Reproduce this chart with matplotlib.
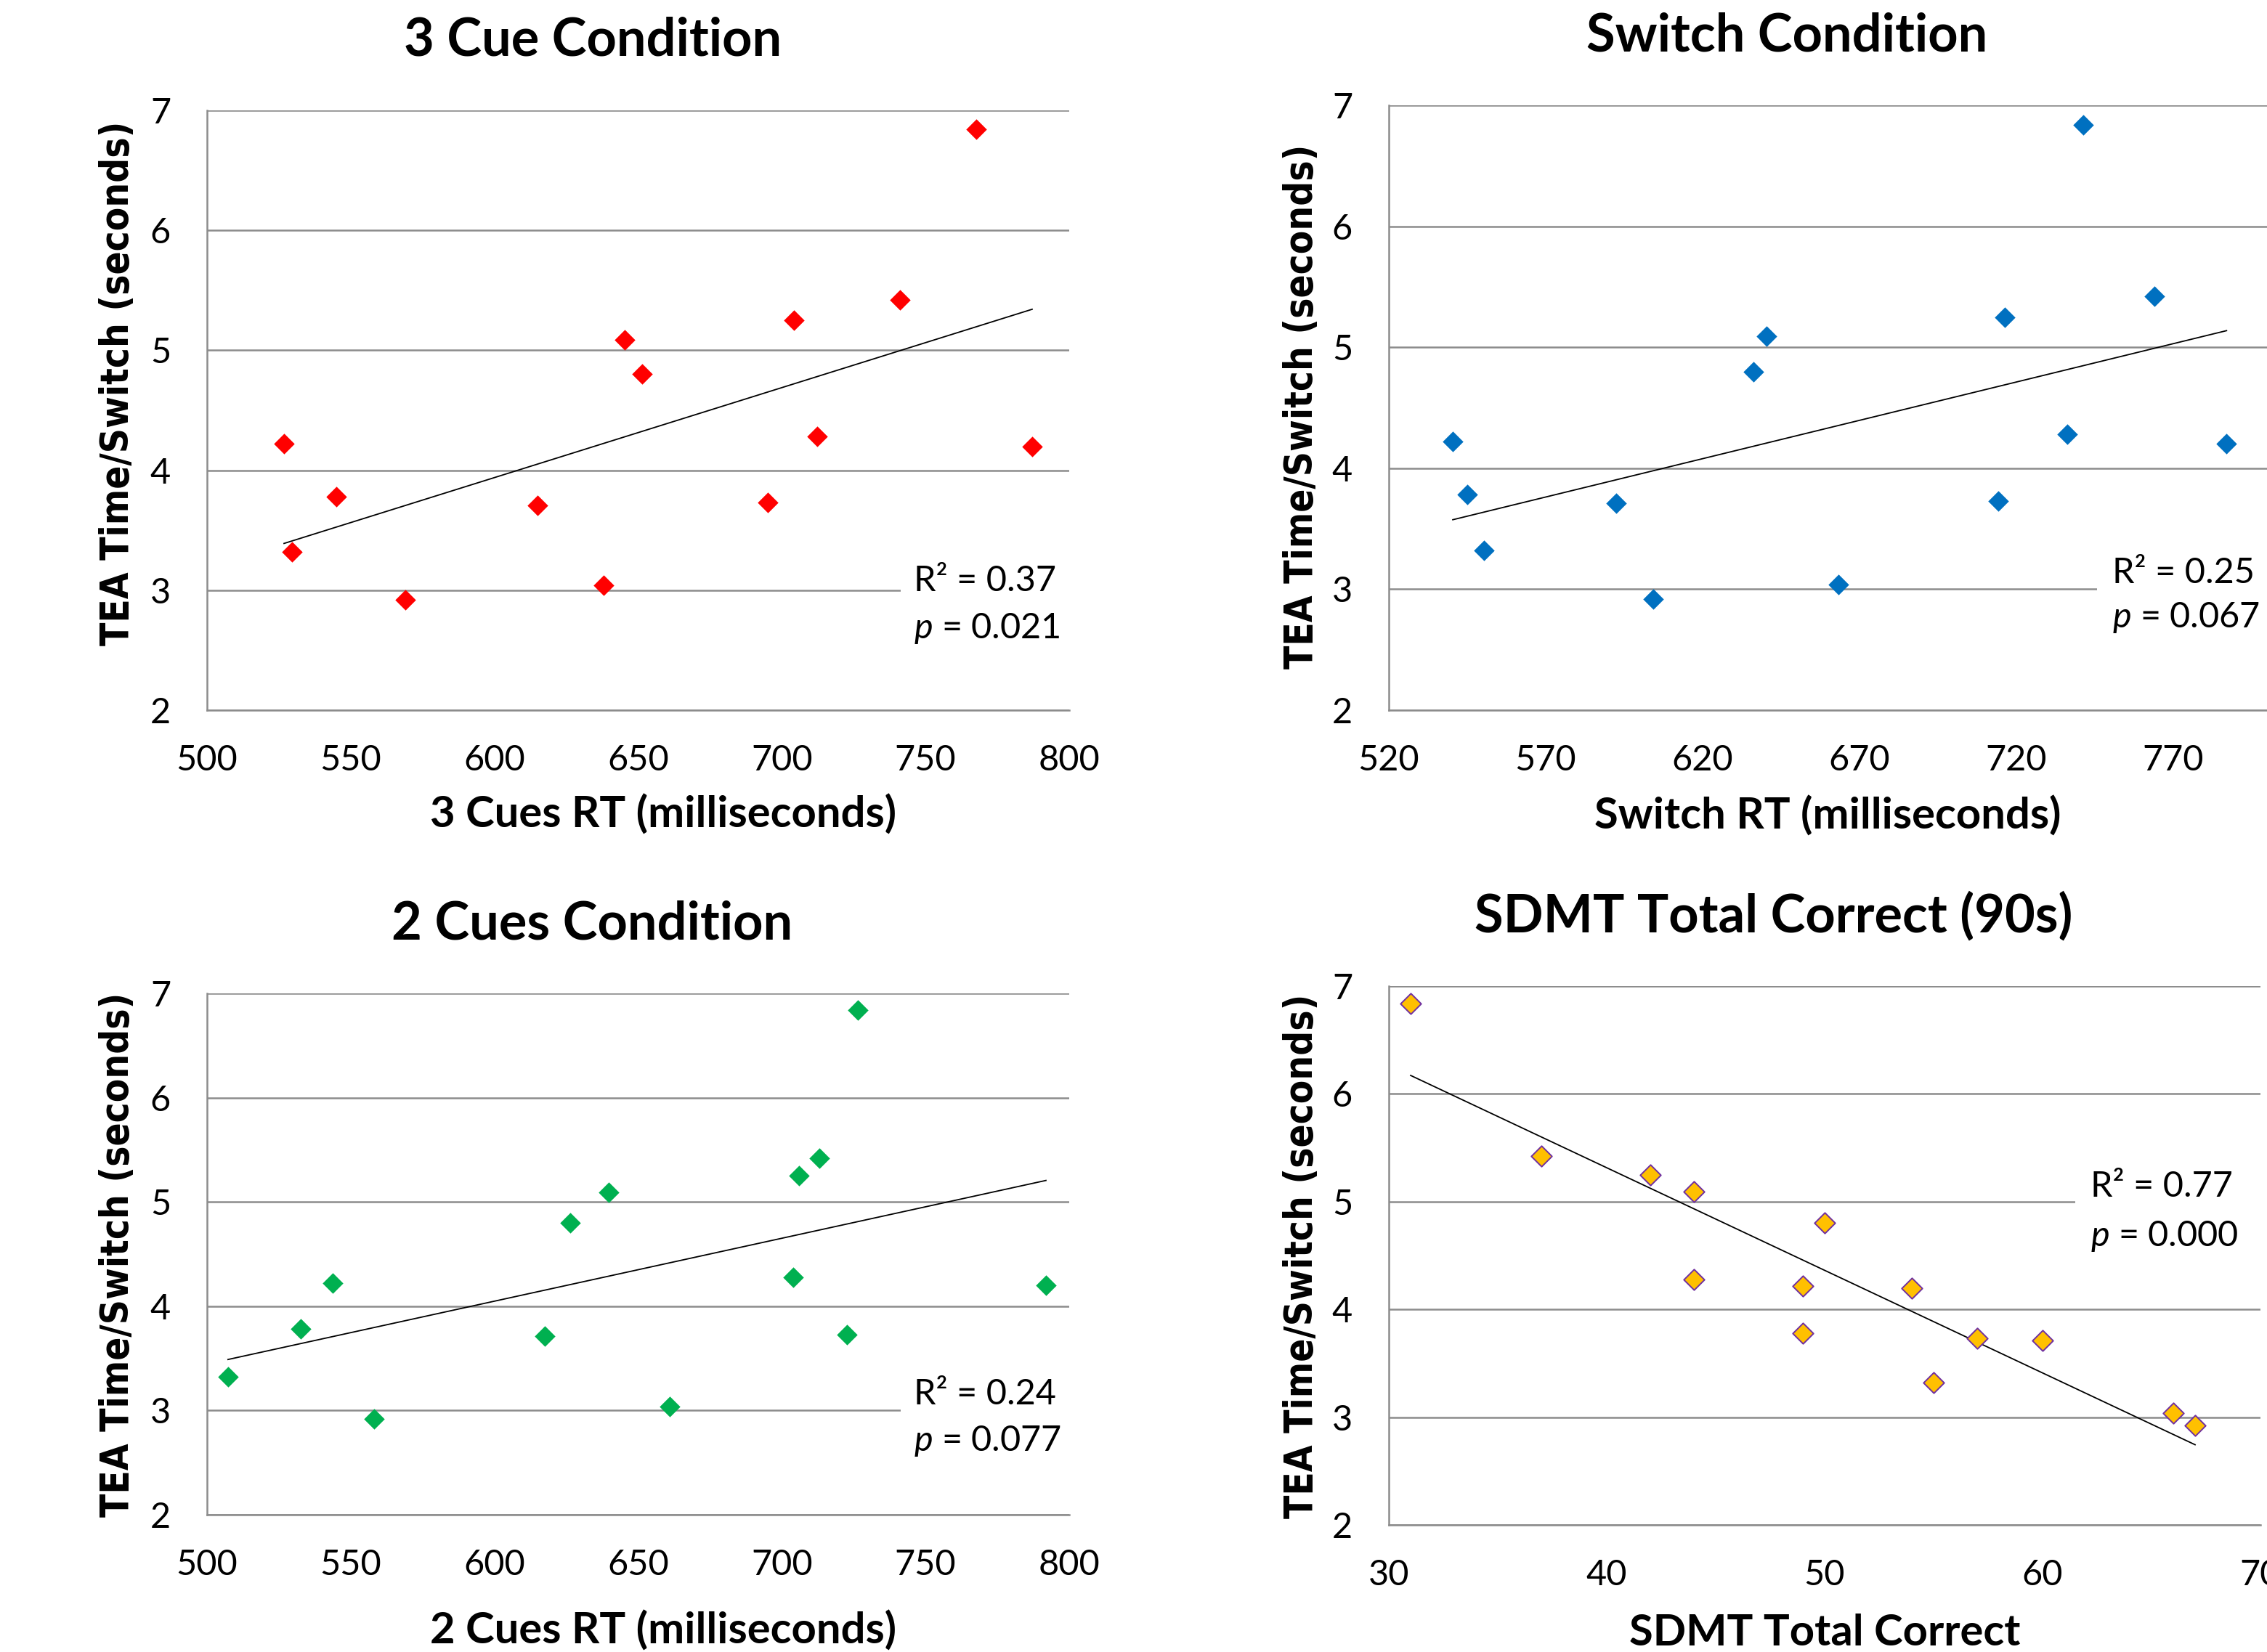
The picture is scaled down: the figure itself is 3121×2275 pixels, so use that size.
import numpy as np
import matplotlib.pyplot as plt
from matplotlib.patches import Rectangle

W, H = 3121, 2275

# TEA time per switch (seconds), one value per participant
tea = [6.84, 5.42, 5.25, 5.09, 4.80, 4.28, 4.22, 4.20, 3.78, 3.73, 3.71, 3.32, 3.04, 2.92]

# predictors, same participant order as tea
rt_3cue = [767.6, 741.1, 704.2, 645.3, 651.4, 712.3, 526.8, 787.1, 545.0, 695.1, 615.0, 529.6, 638.0, 569.0]
rt_switch = [741.3, 764.2, 716.5, 640.5, 636.3, 736.2, 540.4, 787.1, 545.0, 714.4, 592.5, 550.4, 663.4, 604.3]
rt_2cue = [726.4, 713.1, 706.0, 639.8, 626.4, 704.0, 543.7, 791.9, 532.6, 722.7, 617.5, 507.3, 661.0, 558.1]
sdmt = [31, 37, 42, 44, 50, 44, 49, 54, 49, 57, 60, 55, 66, 67]

titles = ["3 Cue Condition", "Switch Condition", "2 Cues Condition", "SDMT Total Correct (90s)"]
xlabels = ["3 Cues RT (milliseconds)", "Switch RT (milliseconds)", "2 Cues RT (milliseconds)", "SDMT Total Correct"]
ylabel = "TEA Time/Switch (seconds)"
r2_vals = ["0.37", "0.25", "0.24", "0.77"]
p_vals = ["0.021", "0.067", "0.077", "0.000"]
xticks = [[500, 550, 600, 650, 700, 750, 800],
          [520, 570, 620, 670, 720, 770],
          [500, 550, 600, 650, 700, 750, 800],
          [30, 40, 50, 60, 70]]
xlims = [(500, 800), (520, 800), (500, 800), (30, 70)]
yticks = [2, 3, 4, 5, 6, 7]

xdata = [rt_3cue, rt_switch, rt_2cue, sdmt]
colors = ["#FF0000", "#0070C0", "#00B050", "#FFC000"]
edges = ["#FF0000", "#0070C0", "#00B050", "#7030A0"]

# layout in pixels: axes (left, top, right, bottom), title xy, xlabel xy, ylabel xy,
# stats text left/y (R2 line, p line), white box span behind the stats
layout = [
    dict(ax=(285, 152, 1472, 978), title=(816, 56), xl=(913, 1122), yl=(162, 528),
         st=(1258, 800, 866), box=(1240, 1480)),
    dict(ax=(1912, 145, 3121, 978), title=(2460, 50), xl=(2516, 1124), yl=(1792, 560),
         st=(2908, 789, 851), box=(2887, 3121)),
    dict(ax=(285, 1368, 1472, 2086), title=(815, 1273), xl=(913, 2246), yl=(162, 1728),
         st=(1258, 1920, 1985), box=(1240, 1480)),
    dict(ax=(1912, 1358, 3112, 2100), title=(2442, 1262), xl=(2512, 2249), yl=(1792, 1730),
         st=(2878, 1634, 1702), box=(2857, 3121)),
]

txt_font = "Lato"
plt.rcParams['mathtext.fontset'] = 'custom'
plt.rcParams['mathtext.it'] = 'Lato:italic'
plt.rcParams['mathtext.rm'] = 'Lato'

fig = plt.figure(figsize=(W / 100, H / 100), dpi=100)
grid_c = "#8c8c8c"

for i in range(4):
    L = layout[i]
    l, t, r, b = L["ax"]
    ax = fig.add_axes([l / W, 1 - b / H, (r - l) / W, (b - t) / H])
    x = np.array(xdata[i], dtype=float)
    y = np.array(tea)
    ax.scatter(x, y, marker="D", s=210, color=colors[i], edgecolors=edges[i],
               linewidths=1.4 if i == 3 else 0, zorder=3, clip_on=False)
    k, c0 = np.polyfit(x, y, 1)
    xs = np.array([x.min(), x.max()])
    ax.plot(xs, k * xs + c0, color="black", lw=1.3, zorder=2)

    ax.set_xlim(*xlims[i])
    ax.set_ylim(2, 7)
    ax.set_xticks(xticks[i])
    ax.set_yticks(yticks)
    ax.grid(axis="y", color=grid_c, lw=1.8)
    ax.set_axisbelow(True)
    for s in ["top", "right"]:
        ax.spines[s].set_visible(False)
    for s in ["left", "bottom"]:
        ax.spines[s].set_color(grid_c)
        ax.spines[s].set_linewidth(1.8)
    ax.tick_params(axis="both", length=0, labelsize=35)
    ax.tick_params(axis="x", pad=34)
    ax.tick_params(axis="y", pad=36)
    for lab in ax.get_xticklabels() + ax.get_yticklabels():
        lab.set_fontfamily(txt_font)

    fig.text(L["title"][0] / W, 1 - L["title"][1] / H, titles[i], ha="center", va="center",
             fontsize=52, fontweight="bold", family=txt_font)
    fig.text(L["xl"][0] / W, 1 - L["xl"][1] / H, xlabels[i], ha="center", va="center",
             fontsize=43, fontweight="bold", family=txt_font)
    fig.text(L["yl"][0] / W, 1 - L["yl"][1] / H, ylabel, ha="center", va="center",
             rotation=90, fontsize=38, fontweight="bold", family="DejaVu Sans",
             fontstretch="condensed")

    sx, ry, py = L["st"]
    bx0, bx1 = L["box"]
    box = Rectangle((bx0 / W, 1 - (py + 40) / H), (bx1 - bx0) / W, (py - ry + 80) / H,
                    transform=fig.transFigure, facecolor="white", edgecolor="none", zorder=1)
    fig.add_artist(box)
    fig.text(sx / W, 1 - ry / H, "R² = " + r2_vals[i], ha="left", va="center",
             fontsize=35, family=txt_font)
    fig.text(sx / W, 1 - py / H, "$\\mathit{p}$ = " + p_vals[i], ha="left", va="center",
             fontsize=35, family=txt_font)

fig.savefig("out.png", dpi=100, facecolor="white")
